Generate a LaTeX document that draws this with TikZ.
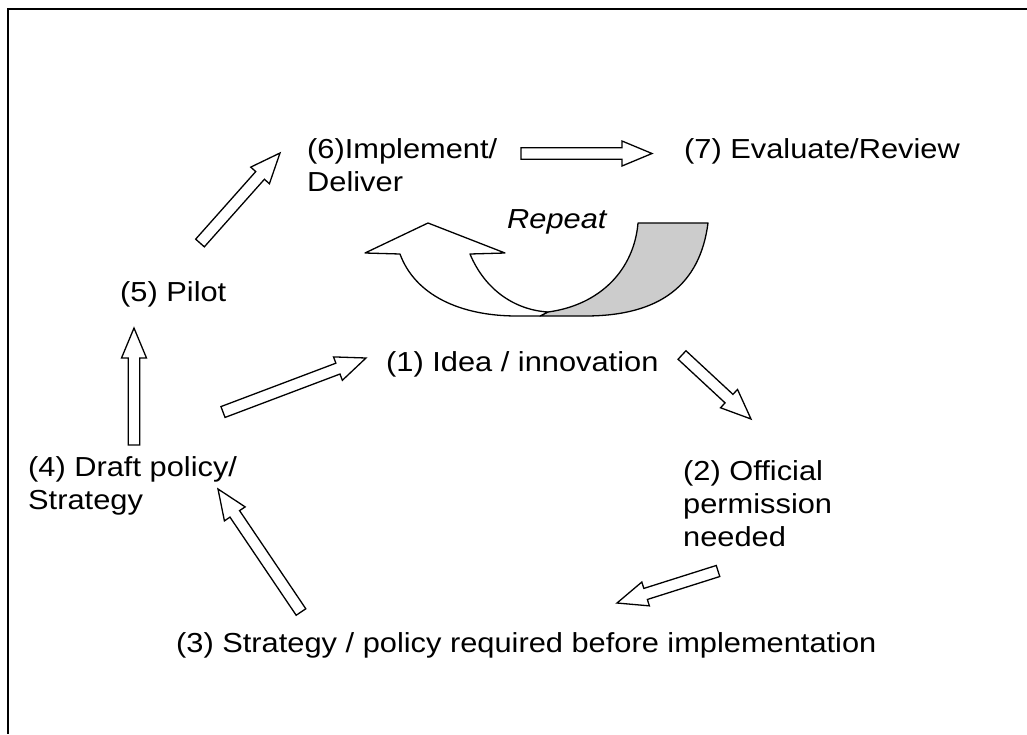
\documentclass[tikz,border=0pt]{standalone}
\usepackage{fontspec}
\setmainfont[FakeStretch=1.12]{Liberation Sans}
\usetikzlibrary{calc}
\tikzset{
  lbl/.style={anchor=base west, inner sep=0pt, font=\fontsize{27.5}{33}\selectfont, align=left},
  blk/.style={draw=black, fill=white, line width=1.3pt, line join=miter},
  rep/.style={draw=black, line width=1.3pt, line join=round},
}
% block arrow from tail #1 to tip #2
\newcommand{\blockarrow}[2]{%
  \coordinate (hb) at ($(#2)!30pt!(#1)$);
  \draw[blk] ($(#1)!5.8pt!90:(#2)$) -- ($(hb)!5.8pt!90:(#2)$) -- ($(hb)!12.5pt!90:(#2)$) -- (#2)
    -- ($(hb)!12.5pt!-90:(#2)$) -- ($(hb)!5.8pt!-90:(#2)$) -- ($(#1)!5.8pt!-90:(#2)$) -- cycle;}
\begin{document}
\begin{tikzpicture}[x=1pt,y=-1pt]
\useasboundingbox (0,0) rectangle (1027,734);
\fill[white] (0,0) rectangle (1027,734);
\draw[line width=2pt] (1027,9) -- (8,9) -- (8,734);

% labels (base anchor = baseline of the last line)
\node[lbl] (n6) at (307,191) {(6)Implement/\\Deliver};
\node[lbl] (n7) at (684,158) {(7) Evaluate/Review};
\node[lbl, font=\fontsize{27.5}{33}\selectfont\itshape] (rp) at (507,228) {Repeat};
\node[lbl] (n5) at (120,301) {(5) Pilot};
\node[lbl] (n1) at (386,371) {(1) Idea / innovation};
\node[lbl] (n4) at (28,509) {(4) Draft policy/\\Strategy};
\node[lbl] (n2) at (683,546) {(2) Official\\permission\\needed};
\node[lbl] (n3) at (176,652) {(3) Strategy / policy required before implementation};

% arrow end points
\coordinate (t67) at (521,153.5); \coordinate (h67) at (652,153.5);
\coordinate (t56) at (200,243);   \coordinate (h56) at (280,153);
\coordinate (t45) at (134,445);   \coordinate (h45) at (134,328);
\coordinate (t41) at (223,412);   \coordinate (h41) at (366,358);
\coordinate (t12) at (682,355);   \coordinate (h12) at (751,419);
\coordinate (t23) at (718,571);   \coordinate (h23) at (617,603);
\coordinate (t34) at (301,612);   \coordinate (h34) at (218,489);

\blockarrow{t67}{h67}
\blockarrow{t56}{h56}
\blockarrow{t45}{h45}
\blockarrow{t41}{h41}
\blockarrow{t12}{h12}
\blockarrow{t23}{h23}
\blockarrow{t34}{h34}

% repeat arrow
\coordinate (rM) at (548,312);
\draw[rep, fill=black!20] (638,223) -- (708,223) .. controls (700,285) and (660,316) .. (585,316)
  -- (540,316) -- (rM) .. controls (600,305) and (634,270) .. (638,223) -- cycle;
\draw[rep, fill=white] (400,254) -- (365,253) -- (428,223) -- (505,253) -- (470,254)
  .. controls (485,290) and (515,310) .. (rM) -- (540,316) -- (517,316)
  .. controls (460,316) and (415,295) .. (400,254) -- cycle;
\end{tikzpicture}
\end{document}
